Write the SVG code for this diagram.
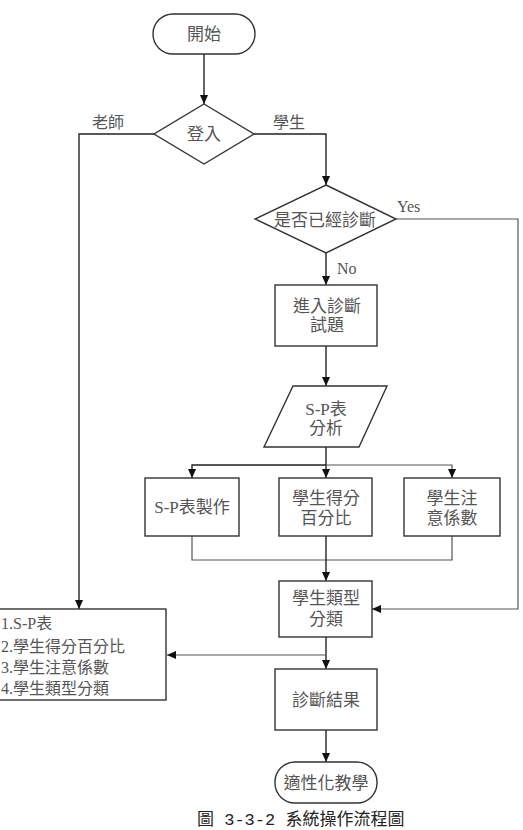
<svg xmlns="http://www.w3.org/2000/svg" width="523" height="830" viewBox="0 0 523 830">
<defs>
<style>
.n{fill:#fff;stroke:#333;stroke-width:1.4}
.t{font-family:"Liberation Serif","Noto Sans CJK TC",serif;font-size:17px;fill:#555;text-anchor:middle;dominant-baseline:central}
.l{font-family:"Liberation Serif","Noto Sans CJK TC",serif;font-size:16px;fill:#555}
.c{fill:none;stroke:#222;stroke-width:1.4}
.g{fill:none;stroke:#555;stroke-width:1.2}
</style>
<marker id="a" viewBox="0 0 10 10" refX="10" refY="5" markerWidth="9" markerHeight="9" markerUnits="userSpaceOnUse" orient="auto">
<path d="M0,0.5 L10,5 L0,9.5 z" fill="#111"/>
</marker>
</defs>
<rect width="523" height="830" fill="#fff"/>
<g id="connectors">
<path class="c" d="M204,54 V104" marker-end="url(#a)"/>
<path class="c" d="M154,134 H79 V609" marker-end="url(#a)"/>
<path class="c" d="M254,134 H326 V185" marker-end="url(#a)"/>
<path class="c" d="M326,253 V285" marker-end="url(#a)"/>
<path class="g" d="M396,219 H518 V609 H372" marker-end="url(#a)"/>
<path class="c" d="M326,346 V386" marker-end="url(#a)"/>
<path class="c" d="M326,447 V478" marker-end="url(#a)"/>
<path class="c" d="M326,465 H192 V478" marker-end="url(#a)"/>
<path class="g" d="M326,465 H452 V478" marker-end="url(#a)"/>
<path class="g" d="M192,536 V560 H452 V536"/>
<path class="c" d="M326,536 V581" marker-end="url(#a)"/>
<path class="c" d="M326,637 V669" marker-end="url(#a)"/>
<path class="g" d="M326,655 H167" marker-end="url(#a)"/>
<path class="c" d="M326,730 V762" marker-end="url(#a)"/>
<text class="l" x="92" y="128">老師</text>
<text class="l" x="273" y="128">學生</text>
<text class="l" x="397" y="212">Yes</text>
<text class="l" x="337" y="274">No</text>
</g>
<g id="start">
<rect class="n" x="153" y="14" width="102" height="40" rx="20"/>
<text class="t" x="204" y="34">開始</text>
</g>
<g id="login">
<polygon class="n" points="204,104 254,134 204,164 154,134"/>
<text class="t" x="204" y="134">登入</text>
</g>
<g id="diagnosed">
<polygon class="n" points="326,185 396,219 326,253 255,219"/>
<text class="t" x="325" y="220">是否已經診斷</text>
</g>
<g id="enter">
<rect class="n" x="275" y="285" width="102" height="61"/>
<text class="t" x="327" y="306">進入診斷</text>
<text class="t" x="327" y="325">試題</text>
</g>
<g id="analysis">
<polygon class="n" points="293,386 387,386 359,447 264,447"/>
<text class="t" x="326" y="409">S-P表</text>
<text class="t" x="326" y="428">分析</text>
</g>
<g id="sp">
<rect class="n" x="145" y="478" width="94" height="58"/>
<text class="t" x="192" y="507">S-P表製作</text>
</g>
<g id="score">
<rect class="n" x="279" y="478" width="93" height="58"/>
<text class="t" x="326" y="498">學生得分</text>
<text class="t" x="326" y="518">百分比</text>
</g>
<g id="caution">
<rect class="n" x="404" y="478" width="96" height="58"/>
<text class="t" x="452" y="498">學生注</text>
<text class="t" x="452" y="518">意係數</text>
</g>
<g id="type">
<rect class="n" x="279" y="581" width="93" height="56"/>
<text class="t" x="326" y="598">學生類型</text>
<text class="t" x="326" y="619">分類</text>
</g>
<g id="teacher">
<rect class="n" x="-10" y="609" width="176" height="91"/>
<text class="l" x="1" y="629">1.S-P表</text>
<text class="l" x="1" y="652">2.學生得分百分比</text>
<text class="l" x="1" y="673">3.學生注意係數</text>
<text class="l" x="1" y="694">4.學生類型分類</text>
</g>
<g id="result">
<rect class="n" x="275" y="669" width="102" height="61"/>
<text class="t" x="326" y="700">診斷結果</text>
</g>
<g id="adaptive">
<rect class="n" x="275" y="762" width="102" height="41" rx="20"/>
<text class="t" x="326" y="783">適性化教學</text>
</g>
<text x="197" y="825" style="font-family:'Liberation Mono','Noto Sans CJK TC',monospace;font-size:17px;fill:#222">圖 3-3-2 系統操作流程圖</text>
</svg>
